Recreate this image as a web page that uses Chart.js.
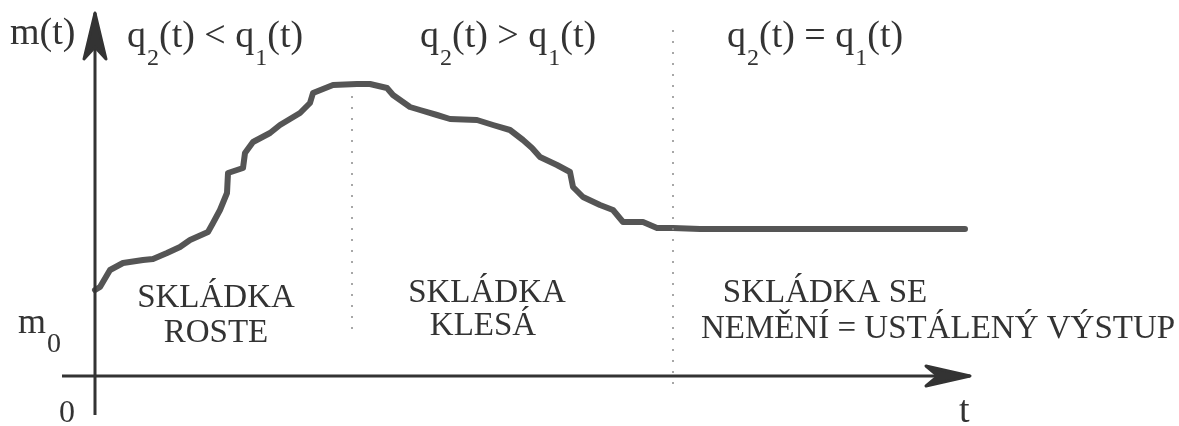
<!DOCTYPE html>
<html>
<head>
<meta charset="utf-8">
<script src="https://cdn.jsdelivr.net/npm/chart.js@4/dist/chart.umd.min.js"></script>
<style>
  html, body { margin: 0; padding: 0; background: #fff; }
  #chart-skladka { display: block; }
</style>
</head>
<body>
<canvas id="chart-skladka" width="1179" height="426"></canvas>
<script>
// m(t) - hmotnost skladky v case t
const curveT = [0, 0.5, 1.5, 2.8, 4.8, 5.8, 7.2, 8.5, 9.5, 11.3, 11.8, 12.5, 13.2, 13.3, 14.8, 15.0,
  15.8, 17.5, 18.5, 20.5, 21.5, 21.8, 23.8, 26.2, 27.5, 29.2, 29.8, 31.5, 32.5, 34.2, 35.5, 38.2,
  39.8, 41.5, 42.8, 43.7, 44.5, 46.2, 47.5, 47.8, 48.8, 50.5, 51.8, 52.8, 54.8, 56.2, 57.8, 60.5, 87.0];
const curveM = [8.6, 8.9, 10.6, 11.3, 11.6, 11.7, 12.3, 12.9, 13.6, 14.4, 15.3, 16.6, 18.3, 20.3, 20.8, 22.3,
  23.4, 24.3, 25.1, 26.3, 27.3, 28.3, 29.1, 29.2, 29.2, 28.8, 28.1, 26.9, 26.6, 26.1, 25.7, 25.6,
  25.1, 24.6, 23.6, 22.8, 21.9, 21.1, 20.4, 18.9, 17.9, 17.1, 16.6, 15.4, 15.4, 14.8, 14.8, 14.7, 14.7];

// osy
const axisT = [-3.3, 87.5];
const axisM = [-3.9, 36.3];

// hranice useku (teckovane cary)
const dividerT = [25.7, 57.8];
const dividerTop = [28.0, 34.6];
const dividerBottom = [4.6, -1.4];

// texty
const phaseLabels = ['q_2(t) < q_1(t)', 'q_2(t) > q_1(t)', 'q_2(t) = q_1(t)'];
const regionLabels = [['SKLÁDKA', 'ROSTE'], ['SKLÁDKA', 'KLESÁ'], ['SKLÁDKA SE', 'NEMĚNÍ = USTÁLENÝ VÝSTUP']];
const axisLabels = ['m(t)', 'm_0', '0', 't'];

const INK = '#333333';
const SERIF = '"Liberation Serif", "DejaVu Serif", serif';

// placement of text (data units)
const phasePos = [[3.2, 32.9], [32.5, 32.9], [63.2, 32.9]];
const regionPos = [[[12.1, 6.9], [12.1, 3.4]], [[39.2, 7.4], [38.8, 4.1]], [[73.0, 7.4], [84.3, 3.8]]];
const axisLabelPos = [[-8.5, 33.2], [-7.7, 4.3], [-3.6, -4.6], [86.4, -4.6]];

function pointsOf(xs, ys) {
    return xs.map((x, i) => ({ x: x, y: ys[i] }));
}

// draws "q_2(t)" style text, _X = subscript
function drawSubText(ctx, text, x, y, size, subSize, subDrop) {
    const parts = text.split(/(_.)/).filter(p => p.length);
    let cx = x;
    parts.forEach(p => {
        if (p[0] === '_') {
            ctx.font = subSize + 'px ' + SERIF;
            ctx.fillText(p[1], cx + 1, y + subDrop);
            cx += ctx.measureText(p[1]).width + 1;
        } else {
            ctx.font = size + 'px ' + SERIF;
            ctx.fillText(p, cx, y);
            cx += ctx.measureText(p).width;
        }
    });
}

function arrowHead(ctx, tip, dirX, dirY, len, half, notch) {
    const px = -dirY, py = dirX;
    ctx.beginPath();
    ctx.moveTo(tip.x, tip.y);
    ctx.lineTo(tip.x - dirX * len + px * half, tip.y - dirY * len + py * half);
    ctx.lineTo(tip.x - dirX * notch, tip.y - dirY * notch);
    ctx.lineTo(tip.x - dirX * len - px * half, tip.y - dirY * len - py * half);
    ctx.closePath();
    ctx.fill();
    ctx.lineWidth = 3;
    ctx.lineJoin = 'round';
    ctx.stroke();
}

const decorPlugin = {
    id: 'decor',
    afterDatasetsDraw(chart) {
        const ctx = chart.ctx;
        const xs = chart.scales.x, ys = chart.scales.y;
        const P = (t, m) => ({ x: xs.getPixelForValue(t), y: ys.getPixelForValue(m) });
        ctx.save();
        ctx.fillStyle = INK;
        ctx.strokeStyle = INK;

        // sipky na koncich os
        arrowHead(ctx, P(axisT[1], 0), 1, 0, 44, 10, 32);
        arrowHead(ctx, P(0, axisM[1]), 0, -1, 46, 11, 34);

        ctx.textBaseline = 'alphabetic';
        ctx.textAlign = 'left';
        phaseLabels.forEach((txt, i) => {
            const p = P(phasePos[i][0], phasePos[i][1]);
            drawSubText(ctx, txt, p.x, p.y, 38, 24, 18);
        });

        ctx.textAlign = 'center';
        ctx.font = '33px ' + SERIF;
        regionLabels.forEach((lines, i) => {
            lines.forEach((line, j) => {
                const p = P(regionPos[i][j][0], regionPos[i][j][1]);
                ctx.fillText(line, p.x, p.y);
            });
        });

        ctx.textAlign = 'left';
        let p = P(axisLabelPos[0][0], axisLabelPos[0][1]);
        drawSubText(ctx, axisLabels[0], p.x, p.y, 38, 24, 0);
        p = P(axisLabelPos[1][0], axisLabelPos[1][1]);
        drawSubText(ctx, axisLabels[1], p.x, p.y, 36, 28, 19);
        p = P(axisLabelPos[2][0], axisLabelPos[2][1]);
        ctx.font = '32px ' + SERIF;
        ctx.fillText(axisLabels[2], p.x, p.y);
        p = P(axisLabelPos[3][0], axisLabelPos[3][1]);
        ctx.font = '38px ' + SERIF;
        ctx.fillText(axisLabels[3], p.x, p.y);
        ctx.restore();
    }
};

class SkladkaChart {
    constructor() {
        this.canvas = document.getElementById('chart-skladka');
        this.chart = null;
        if (this.canvas) {
            this.initChart();
        }
    }

    initChart() {
        const ctx = this.canvas.getContext('2d');
        const dividers = dividerT.map((t, i) => ({
            data: pointsOf([t, t], [dividerTop[i], dividerBottom[i]]),
            borderColor: '#8a8a8a',
            borderWidth: 1.5,
            borderDash: [2, 9],
            pointRadius: 0
        }));

        this.chart = new Chart(ctx, {
            type: 'line',
            data: {
                datasets: [
                    ...dividers,
                    {
                        data: pointsOf(axisT, [0, 0]),
                        borderColor: INK,
                        borderWidth: 3,
                        pointRadius: 0
                    },
                    {
                        data: pointsOf([0, 0], axisM),
                        borderColor: INK,
                        borderWidth: 3,
                        pointRadius: 0
                    },
                    {
                        label: 'm(t)',
                        data: pointsOf(curveT, curveM),
                        borderColor: '#555555',
                        borderWidth: 6,
                        borderJoinStyle: 'round',
                        borderCapStyle: 'round',
                        tension: 0,
                        pointRadius: 0
                    }
                ]
            },
            options: {
                responsive: false,
                animation: false,
                layout: { padding: 0 },
                plugins: {
                    legend: { display: false },
                    tooltip: { enabled: false }
                },
                scales: {
                    x: { type: 'linear', min: -9.5, max: 108.4, display: false },
                    y: { type: 'linear', min: -5.0, max: 37.6, display: false }
                }
            },
            plugins: [decorPlugin]
        });
    }
}

new SkladkaChart();
</script>
</body>
</html>
